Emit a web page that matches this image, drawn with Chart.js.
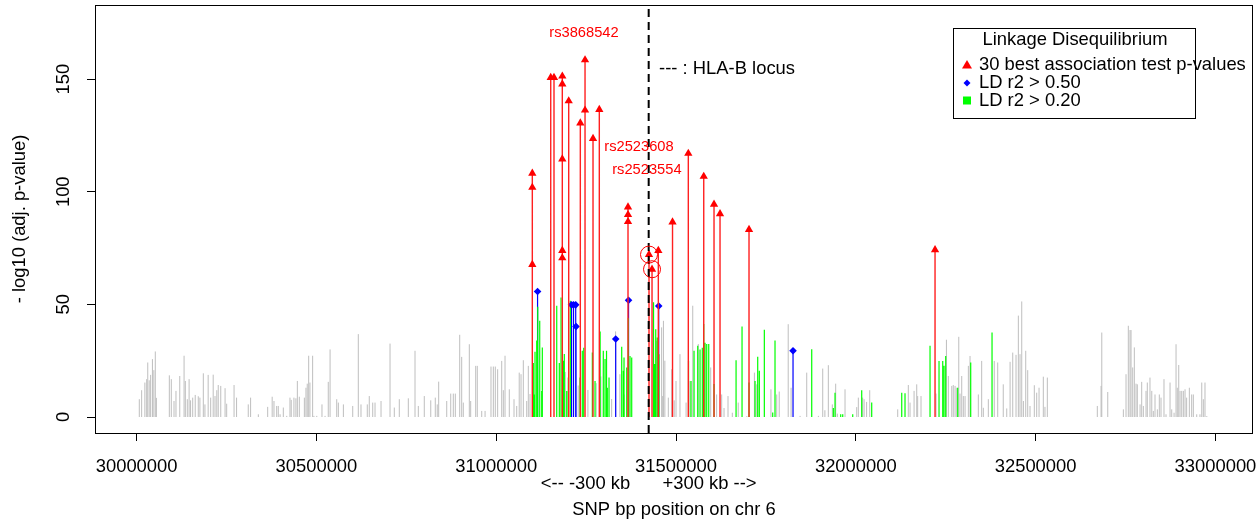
<!DOCTYPE html>
<html>
<head>
<meta charset="utf-8">
<script src="https://cdn.jsdelivr.net/npm/chart.js"></script>
<style>
  html, body { margin: 0; padding: 0; background: #fff; }
</style>
</head>
<body>
<canvas id="ld" width="1259" height="522"></canvas>
<script>
// SNP positions (bp on chr 6) and -log10 adjusted p-values

// 30 best association test p-values (red triangles)
const redPos = [31100400, 31100400, 31100400, 31151600, 31160700,
  31183800, 31183800, 31183800, 31183800, 31183800,
  31201600, 31233900, 31247000, 31247000, 31269200, 31286700,
  31366500, 31366500, 31366500, 31424900, 31433300, 31450800,
  31490300, 31534200, 31577100, 31605700, 31622400, 31703000, 32220300];
const redVal = [108.2, 101.9, 67.7, 150.7, 150.7,
  151.3, 147.8, 114.5, 73.9, 70.6,
  140.3, 130.5, 158.5, 136.2, 123.6, 136.5,
  93.2, 89.8, 86.7, 72.1, 65.6, 73.9,
  86.5, 117.0, 106.8, 94.4, 90.2, 83.2, 74.2];
const circledIdx = [19, 20];

// LD r2 > 0.50 (blue diamonds)
const bluePos = [31115000, 31209400, 31215000, 31221100, 31222000, 31332300, 31368000, 31451900, 31825400];
const blueVal = [55.7, 49.8, 49.8, 49.8, 40.2, 34.6, 51.8, 49.3, 29.4];

// LD r2 > 0.20 (green)
const greenPos = [31103200, 31106000, 31107900, 31112600, 31115500, 31121000, 31126500, 31128200,
  31168300, 31175500, 31180200, 31186600, 31189400, 31196100, 31200500, 31206100,
  31233000, 31239400, 31243300, 31267300, 31274800, 31289000, 31297800, 31302600,
  31306800, 31309000, 31313700, 31349000, 31353500, 31355400, 31362900, 31367500,
  31372100, 31376800, 31437500, 31440800, 31443600, 31448000, 31452700,
  31534800, 31541700, 31550100, 31560400, 31566800, 31573100, 31577100, 31580700,
  31585400, 31591000, 31605700, 31667000, 31683600, 31703000, 31719800, 31727200,
  31731700, 31745600, 31768900, 31775300, 31877400, 31937500, 31942200, 31958000,
  31963600, 31991400, 32016400, 32044200, 32127700, 32136800, 32206400, 32231400,
  32241700, 32245300, 32250000, 32283400, 32319500, 32378800];
const greenVal = [24, 10, 29, 34, 49, 42.7, 11.6, 30.9,
  49.4, 24, 53, 25, 28, 11.6, 17.5, 51.6,
  17.5, 29.4, 30.8, 28.6, 16, 38, 29.4, 25.7,
  29.4, 13, 17.5, 31.2, 20.5, 26.4, 22, 44,
  27.1, 26.4, 50.9, 23.5, 39, 35.3, 27.9,
  25, 16, 29.4, 31.6, 30, 30.8, 41.3, 33,
  32.4, 32.4, 14.7, 25.2, 40.2, 15.3, 16, 26.7,
  20.5, 38.7, 2, 34, 30.1, 4, 10.8, 1.2,
  1.2, 1.2, 11.9, 6.4, 10.8, 10.6, 31.6, 24.9,
  24.9, 22.7, 27.1, 13, 24.2, 37.5];

// all other SNPs (grey)
const greyPos = [30007500, 30014000, 30023000, 30028000, 30031000, 30035000, 30039000, 30044000,
  30048000, 30052000, 30055000, 30091000, 30096500, 30104000, 30109500, 30120000,
  30132000, 30135500, 30141000, 30146000, 30150000, 30156000, 30163000, 30171500,
  30176000, 30185500, 30190000, 30199000, 30206000, 30213000, 30218000, 30223000,
  30227000, 30234000, 30246000, 30250500, 30271000, 30278000, 30310500, 30317000,
  30338500, 30364500, 30377000, 30382000, 30389500, 30394000, 30399000, 30408000,
  30417500, 30426500, 30430000, 30437500, 30443000, 30447000, 30452500, 30466500,
  30471000, 30474500, 30478500, 30482000, 30489500, 30493000, 30501000, 30515500,
  30524000, 30533000, 30538000, 30556500, 30561000, 30575000, 30601000, 30616500,
  30624000, 30641500, 30647000, 30656600, 30663000, 30679700, 30704700, 30716600,
  30730500, 30755600, 30774200, 30783400, 30800000, 30818000, 30830600, 30836000,
  30840000, 30862400, 30873500, 30880700, 30886300, 30898500, 30904000, 30908500,
  30925200, 30929000, 30943000, 30947400, 30959700, 30969000, 30985500, 30992000,
  30997500, 31004000, 31015300, 31019800, 31024500, 31036400, 31049500, 31057000,
  31064000, 31069000, 31075400, 31084800, 31089300, 31094000,
  31192000, 31228000, 31255000, 31278000, 31291000, 31321000, 31332000, 31344000,
  31356000, 31446000, 31460000, 31463000, 31465000, 31469000, 31478600, 31488000,
  31495000, 31500000, 31511000, 31528000, 31539000, 31546500, 31562000, 31596500,
  31613000, 31627000, 31633500, 31644600, 31656600, 31673000, 31697000, 31718000,
  31724500, 31764000, 31780000, 31787000, 31812000, 31820000, 31845000, 31863500,
  31896000, 31908000, 31914000, 31923600, 31934700, 31944000, 31948600, 31970000,
  32002500, 32007000, 32019000, 32023000, 32030000, 32038700, 32116500, 32146000,
  32150800, 32162000, 32169400, 32172000, 32181300, 32223000, 32252000, 32257300,
  32266800, 32271000, 32276000, 32280600, 32286300, 32289800, 32294500, 32299000,
  32303800, 32313000, 32317600, 32340700, 32350000, 32354600, 32368500, 32385000,
  32394600, 32410000, 32419700, 32429000, 32436400, 32445500, 32452000, 32456600,
  32461400, 32466000, 32472500, 32478000, 32484400, 32496400, 32503000, 32509500,
  32521400, 32526000, 32532600, 32671600, 32682000, 32684000, 32700600, 32744000,
  32751400, 32757800, 32762500, 32765300, 32770000, 32774500, 32779200, 32782800,
  32790400, 32795000, 32799600, 32807000, 32810600, 32818000, 32823000, 32827300,
  32832000, 32838500, 32844000, 32848700, 32857000, 32862600, 32873800, 32878500,
  32885000, 32890500, 32894000, 32898000, 32901600, 32906300, 32910800, 32915500,
  32920000, 32927500, 32934000, 32938600, 32948000, 32957000, 32962000, 32966400,
  32971000, 32976000];
const greyVal = [7.9, 11.9, 15.3, 16.8, 24.2, 16.3, 18.7, 25.7,
  20.8, 29.1, 8.5, 18.5, 16.8, 7.1, 11.6, 18.2,
  27.2, 16.0, 7.9, 16.8, 7.4, 8.6, 9.8, 9.2,
  8.6, 19.4, 5.6, 18.7, 8.6, 18.8, 9.3, 11.9,
  14.2, 13.8, 12.8, 5.9, 14.2, 8.6, 5.6, 8.6,
  1.2, 4.5, 9.0, 7.1, 4.9, 4.9, 1.2, 4.2,
  0.5, 8.6, 7.6, 8.6, 8.3, 16.0, 9.0, 8.6,
  13.0, 14.8, 27.2, 15.3, 27.2, 0.5, 0.5, 5.6,
  0.5, 15.6, 30.0, 7.9, 6.4, 5.6, 4.9, 36.8,
  5.6, 5.6, 9.3, 6.4, 6.4, 7.1, 32.6, 4.2,
  7.9, 8.3, 29.4, 4.9, 9.3, 7.4, 8.6, 5.6,
  15.7, 7.1, 10.4, 10.4, 10.4, 36.5, 26.7, 6.4,
  32.3, 7.1, 22.7, 22.7, 2.7, 2.7, 22.4, 22.4,
  22.4, 21.2, 24.9, 11.9, 27.2, 12.3, 7.9, 4.9,
  19.7, 19.0, 25.2, 7.1, 22.7, 10.2,
  20, 14, 12, 15, 18, 8, 38, 19,
  10, 33.8, 39.8, 9.3, 42.7, 25, 8.6, 21.2,
  7.4, 16, 27.9, 6.4, 16, 49.4, 32.4, 22,
  10, 10, 4, 9.3, 1.9, 6.4, 0.4, 19.7,
  14.5, 12.3, 10, 11.3, 41.2, 13, 0.5, 19.7,
  0.5, 21.5, 3, 23, 5.6, 14.8, 1.5, 12.3,
  4.4, 8.6, 8.6, 7.9, 6.7, 11.9, 3.4, 14.2,
  6.4, 11.6, 14.5, 9.3, 9.3, 10.4, 34.3, 18.2,
  13.8, 14.2, 13.8, 13, 35.6, 10.4, 18.2, 9.3,
  9.3, 22.7, 27.1, 10, 24.9, 4.1, 7.9, 24.9,
  24.2, 14.5, 3.8, 24.5, 28.6, 27.6, 45, 27.9,
  51.3, 7.1, 29.4, 20.8, 4.9, 14.1, 10.8, 13,
  17.9, 4.5, 17.5, 4.9, 13.8, 37.5, 11.1, 3.4,
  19, 40.5, 38.6, 38.6, 22, 30.9, 14.8, 14.5,
  5.6, 15.6, 4.9, 11.6, 15.3, 17.5, 11.6, 2.7,
  10, 3.4, 10, 8.6, 16.8, 1.2, 15.3, 3.4,
  1.9, 32.3, 13, 23.1, 11.6, 11.6, 11.6, 12.3,
  8.6, 13, 10, 10, 1.2, 1.2, 15.3, 7.9,
  15.3, 0.4];

// HLA-B locus and text annotations
const hlaB = 31424000;
const snpLabels = [
  { text: 'rs3868542', x: 31244000, y: 170.4 },
  { text: 'rs2523608', x: 31397000, y: 119.8 },
  { text: 'rs2523554', x: 31419000, y: 109.6 }
];

// axes
const xMin = 29884300, xMax = 33104500;
const yMin = -7.1, yMax = 182.9;
const xTicks = [30000000, 30500000, 31000000, 31500000, 32000000, 32500000, 33000000];
const yTicks = [0, 50, 100, 150];

const FONT = '"Liberation Sans", Arial, Helvetica, sans-serif';
Chart.defaults.font.family = FONT;
Chart.defaults.font.size = 18.4;
Chart.defaults.color = '#000';

// a vertical segment from 0 to the value for every SNP, broken by nulls
const needles = (pos, val) => {
  const pts = [];
  pos.forEach((x, i) => { pts.push({ x, y: 0 }, { x, y: val[i] }, { x, y: null }); });
  return pts;
};
const points = (pos, val) => pos.map((x, i) => ({ x, y: val[i] }));

const needleSet = (label, pos, val, color, width, order) => ({
  type: 'line', label, data: needles(pos, val), borderColor: color, borderWidth: width,
  pointRadius: 0, spanGaps: false, order, borderCapStyle: 'butt'
});

// keep the plot box where the reference has it
const noPad = s => { s.paddingLeft = 0; s.paddingRight = 0; s.paddingTop = 0; s.paddingBottom = 0; };

const decor = {
  id: 'decor',
  afterDraw(chart) {
    const ctx = chart.ctx;
    const { left, right, top, bottom } = chart.chartArea;
    const xs = chart.scales.x, ys = chart.scales.y;
    ctx.save();

    // box round the plot
    ctx.strokeStyle = '#000';
    ctx.lineWidth = 1;
    ctx.strokeRect(Math.round(left) + 0.5, Math.round(top) + 0.5,
      Math.round(right - left) - 1, Math.round(bottom - top));

    // y tick labels, parallel to the axis
    ctx.fillStyle = '#000';
    ctx.font = '18.4px ' + FONT;
    ctx.textAlign = 'center';
    ctx.textBaseline = 'middle';
    yTicks.forEach(v => {
      ctx.save();
      ctx.translate(64, ys.getPixelForValue(v));
      ctx.rotate(-Math.PI / 2);
      ctx.fillText(String(v), 0, 0);
      ctx.restore();
    });

    // +/- 300 kb marks under the axis
    ctx.textAlign = 'left';
    ctx.fillText('<-- -300 kb', xs.getPixelForValue(hlaB - 300000), 484);
    ctx.textAlign = 'right';
    ctx.fillText('+300 kb -->', xs.getPixelForValue(hlaB + 300000), 484);

    // HLA-B note
    ctx.textAlign = 'left';
    ctx.fillText('--- : HLA-B locus', xs.getPixelForValue(31453000), ys.getPixelForValue(154.4));

    // SNP names
    ctx.fillStyle = '#ff0000';
    ctx.font = '14.7px ' + FONT;
    ctx.textAlign = 'center';
    snpLabels.forEach(l => ctx.fillText(l.text, xs.getPixelForValue(l.x), ys.getPixelForValue(l.y)));

    // legend
    const lx = 953, ly = 28, lw = 242, lh = 90;
    ctx.fillStyle = '#fff';
    ctx.fillRect(lx, ly, lw, lh);
    ctx.strokeStyle = '#000';
    ctx.strokeRect(lx + 0.5, ly + 0.5, lw, lh);
    ctx.fillStyle = '#000';
    ctx.font = '18.4px ' + FONT;
    ctx.textAlign = 'center';
    ctx.fillText('Linkage Disequilibrium', lx + lw / 2 + 1, 40);
    ctx.textAlign = 'left';
    const mx = 967, tx = 979;
    const rows = [65, 83, 100.5];
    ctx.fillText('30 best association test p-values', tx, rows[0]);
    ctx.fillText('LD r2 > 0.50', tx, rows[1]);
    ctx.fillText('LD r2 > 0.20', tx, rows[2]);
    // triangle
    ctx.fillStyle = '#ff0000';
    ctx.beginPath();
    ctx.moveTo(mx, rows[0] - 5);
    ctx.lineTo(mx + 5, rows[0] + 3.5);
    ctx.lineTo(mx - 5, rows[0] + 3.5);
    ctx.closePath();
    ctx.fill();
    // diamond
    ctx.fillStyle = '#0000ff';
    ctx.beginPath();
    ctx.moveTo(mx, rows[1] - 3.5);
    ctx.lineTo(mx + 3.5, rows[1]);
    ctx.lineTo(mx, rows[1] + 3.5);
    ctx.lineTo(mx - 3.5, rows[1]);
    ctx.closePath();
    ctx.fill();
    // square
    ctx.fillStyle = '#00ff00';
    ctx.fillRect(mx - 4, rows[2] - 4, 8, 8);
    ctx.restore();
  }
};

new Chart(document.getElementById('ld'), {
  type: 'scatter',
  data: {
    datasets: [
      {
        type: 'scatter', label: 'circled',
        data: circledIdx.map(i => ({ x: redPos[i], y: redVal[i] })),
        pointStyle: 'circle', pointRadius: 8.5, backgroundColor: 'rgba(0,0,0,0)',
        borderColor: '#ff0000', borderWidth: 1, order: 0
      },
      {
        type: 'line', label: 'HLA-B',
        data: [{ x: hlaB, y: yMin }, { x: hlaB, y: yMax }],
        borderColor: '#000', borderWidth: 2, borderDash: [8, 5], pointRadius: 0, order: 1
      },
      {
        type: 'scatter', label: '30 best association test p-values',
        data: points(redPos, redVal), pointStyle: 'triangle', pointRadius: 4.8,
        backgroundColor: '#ff0000', borderWidth: 0, order: 2
      },
      needleSet('red', redPos, redVal, '#ff2020', 1.4, 3),
      {
        type: 'scatter', label: 'LD r2 > 0.50',
        data: points(bluePos, blueVal), pointStyle: 'rectRot', pointRadius: 3.8,
        backgroundColor: '#0000ff', borderWidth: 0, order: 4
      },
      needleSet('LD r2 > 0.20', greenPos, greenVal, '#00ff00', 1.2, 5),
      needleSet('blue', bluePos, blueVal, '#0000ff', 1.2, 6),
      needleSet('other', greyPos, greyVal, '#bebebe', 1, 7)
    ]
  },
  options: {
    responsive: false,
    animation: false,
    devicePixelRatio: 1,
    layout: { autoPadding: false, padding: { top: 5, right: 6, left: 0, bottom: 0 } },
    plugins: { legend: { display: false }, tooltip: { enabled: false } },
    scales: {
      x: {
        type: 'linear', min: xMin, max: xMax,
        afterBuildTicks: s => { s.ticks = xTicks.map(v => ({ value: v })); },
        afterFit: s => { s.height = 89; noPad(s); },
        grid: { drawOnChartArea: false, drawTicks: true, tickLength: 8, color: '#000' },
        border: { display: false },
        ticks: { autoSkip: false, maxRotation: 0, padding: 15, callback: v => String(v) },
        title: { display: true, text: 'SNP bp position on chr 6', padding: { top: 0, bottom: 1 } }
      },
      y: {
        type: 'linear', min: yMin, max: yMax, stacked: false,
        afterBuildTicks: s => { s.ticks = yTicks.map(v => ({ value: v })); },
        afterFit: s => { s.width = 95; noPad(s); },
        grid: { drawOnChartArea: false, drawTicks: true, tickLength: 8, color: '#000' },
        border: { display: false },
        ticks: { display: false },
        title: { display: true, text: '- log10 (adj. p-value)', padding: { top: 9, bottom: 0 } }
      }
    }
  },
  plugins: [decor]
});
</script>
</body>
</html>
